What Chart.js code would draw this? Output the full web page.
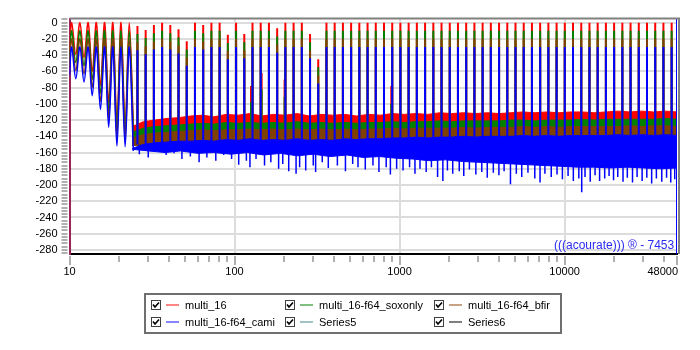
<!DOCTYPE html>
<html>
<head>
<meta charset="utf-8">
<script src="https://cdn.jsdelivr.net/npm/chart.js@4.4.0/dist/chart.umd.min.js"></script>
<style>
  body { margin: 0; background: #fff; font-family: "Liberation Sans", Arial, sans-serif; }
  #wrap { position: relative; width: 700px; height: 350px; overflow: hidden; }
  #legendBox { position: absolute; left: 144px; top: 293px; width: 414px; height: 37px; border: 2px solid #6f6f6f; }
  .item { position: absolute; height: 12px; font-size: 11px; line-height: 12px; white-space: nowrap; }
  .item svg { position: absolute; left: 0; top: 0; }
  .item .swatch { position: absolute; left: 15px; top: 4px; width: 13px; height: 2px; }
  .item span { position: absolute; left: 34px; top: -1px; color: #000; }
  #brand { position: absolute; left: 554px; top: 238px; font-size: 12px; color: #2a2af2; white-space: nowrap; }
</style>
</head>
<body>
<div id="wrap">
  <canvas id="chart" width="700" height="350"></canvas>
  <div id="brand">(((acourate))) ® - 7453</div>
  <div id="legendBox"></div>
</div>
<script>
// x / y tick labels
const xTicks = [10, 100, 1000, 10000, 48000];
const yTicks = [0, -20, -40, -60, -80, -100, -120, -140, -160, -180, -200, -220, -240, -260, -280];

// low frequency part: tone peaks and the dips between them (Hz)
const lowFreq = [10, 10.31, 10.92, 11.56, 12.24, 12.97, 13.73, 14.54, 15.40, 16.32, 17.28, 18.30, 19.38, 20.52, 21.73, 23.01, 24.37];
const redLow   = [-35, 0, -39, 0, -43, 0, -60, 0, -77, 0, -99, 0, -122, 0, -128, 0, -128];
const greenLow = [-45, -10, -49, -10, -53, -10, -70, -10, -87, -10, -109, -10, -132, -10, -135, -10, -135];
const brownLow = [-55, -20, -59, -20, -63, -20, -80, -20, -97, -20, -119, -20, -142, -20, -145, -20, -145];
const blueLow  = [-65, -30, -69, -30, -73, -30, -90, -30, -107, -30, -129, -30, -152, -30, -153, -30, -158];

// tones above 25 Hz (drawn as spikes)
const spikeFreq = [25.81, 28.94, 32.46, 36.40, 40.82, 45.78, 51.34, 57.58, 64.57, 72.42, 81.22, 91.09,
  102.2, 114.6, 128.5, 144.1, 161.6, 181.3, 203.3, 228.0, 255.7, 286.8, 321.6, 360.7, 404.5, 453.7,
  508.8, 570.6, 640.0, 717.7, 804.9, 902.7, 1012, 1135, 1273, 1428, 1602, 1796, 2015, 2259, 2534, 2842,
  3187, 3574, 4009, 4496, 5042, 5655, 6342, 7112, 7977, 8946, 10030, 11250, 12620, 14150, 15870, 17800,
  19960, 22390, 25110, 28160, 31580, 35420, 39720, 44550];
const redPeak = [-4, -9, -3, 0, -3, -8, -23, 0, -3, 0, 0, -15, 0, -14, 0, 0, 0, -7, 0, 0, 0, -14, -45, 0, 0, 0,
  0, 0, 0, 0, 0, 0, 0, 0, 0, 0, 0, 0, 0, 0, 0, 0, 0, 0, 0, 0, 0, 0, 0, 0, 0, 0, 0, 0, 0, 0, 0, 0, 0, 0, 0, 0, 0, 0, 0, 0];
const greenPeak = [-14, -19, -13, -10, -13, -18, -33, -10, -13, -10, -10, -25, -10, -24, -10, -10, -10, -17, -10, -10, -10, -24, -55, -10, -10, -10,
  -10, -10, -10, -10, -10, -10, -10, -10, -10, -10, -10, -10, -10, -10, -10, -10, -10, -10, -10, -10, -10, -10, -10, -10, -10, -10, -10, -10, -10, -10, -10, -10, -10, -10, -10, -10, -10, -10, -10, -10];
const brownPeak = [-24, -29, -23, -20, -23, -28, -43, -20, -23, -20, -20, -35, -20, -34, -20, -20, -20, -27, -20, -20, -20, -34, -65, -20, -20, -20,
  -20, -20, -20, -20, -20, -20, -20, -20, -20, -20, -20, -20, -20, -20, -20, -20, -20, -20, -20, -20, -20, -20, -20, -20, -20, -20, -20, -20, -20, -20, -20, -20, -20, -20, -20, -20, -20, -20, -20, -20];
const bluePeak = [-34, -39, -33, -30, -33, -38, -53, -30, -33, -30, -30, -45, -30, -44, -30, -30, -30, -37, -30, -30, -30, -44, -75, -30, -30, -30,
  -30, -30, -30, -30, -30, -30, -30, -30, -30, -30, -30, -30, -30, -30, -30, -30, -30, -30, -30, -30, -30, -30, -30, -30, -30, -30, -30, -30, -30, -30, -30, -30, -30, -30, -30, -30, -30, -30, -30, -30];

// short distortion lines next to some tones
const extraFreq = [125.4, 146.5, 200.4, 888];
const redExtra = [-78, -62, -70, -78];
const greenExtra = [-98, -82, -92, -100];

// noise floor, upper edges
const floorFreq = [24, 28, 33, 39, 46, 54, 64, 75, 89, 105, 124, 146, 172, 203, 240, 283, 334, 394, 465, 549, 648, 765, 903,
  1066, 1258, 1485, 1753, 2069, 2442, 2882, 3402, 4015, 4739, 5594, 6603, 7794, 9200, 10860, 12820, 15130, 17860, 21080,
  24880, 29370, 34670, 40920, 48000];
const redTop = [-128, -122, -120, -118, -117, -115, -114, -116, -113, -114, -112, -115, -113, -114, -112, -115, -113, -114, -113, -115, -113, -114, -112,
  -113, -112, -113, -111, -112, -111, -112, -111, -112, -111, -110, -111, -110, -111, -110, -110, -111, -110, -109,
  -110, -109, -110, -109, -110];
const greenTop = [-135, -130, -128, -127, -126, -125, -124, -125, -123, -124, -123, -124, -123, -124, -122, -124, -123, -124, -123, -124, -123, -123, -122,
  -123, -122, -122, -121, -122, -121, -121, -121, -121, -120, -120, -121, -120, -120, -120, -119, -120, -119, -119,
  -119, -119, -119, -118, -119];
const brownTop = [-142, -138, -136, -135, -134, -133, -132, -133, -132, -132, -131, -132, -131, -132, -131, -132, -131, -132, -131, -132, -131, -131, -130,
  -131, -130, -130, -130, -130, -129, -130, -129, -129, -129, -128, -129, -128, -129, -128, -128, -128, -128, -128,
  -127, -128, -127, -127, -128];
const blueTop = [-155, -150, -148, -147, -146, -146, -145, -146, -144, -145, -143, -145, -144, -145, -143, -145, -144, -145, -143, -144, -143, -143, -142,
  -142, -141, -142, -141, -141, -140, -141, -140, -140, -140, -139, -140, -139, -140, -139, -139, -139, -139, -138,
  -139, -138, -139, -138, -139];

// blue noise, lower edge of the dense part
const blueBotFreq = [24, 30, 38, 47, 60, 75, 95, 120, 150, 190, 240, 300, 380, 480, 600, 760, 950, 1200, 1500, 1900,
  2400, 3000, 3800, 4800, 6000, 7600, 9500, 12000, 15000, 19000, 24000, 30000, 38000, 48000];
const blueBot = [-156, -158, -160, -158, -161, -160, -162, -160, -163, -161, -164, -162, -165, -163, -166, -165, -167, -168, -170, -169,
  -171, -172, -173, -174, -175, -176, -177, -178, -178, -179, -178, -179, -180, -179];

// blue noise, deepest single dips
const dipFreq = [26.5, 30, 34, 38.5, 43, 48, 54, 61, 68, 77, 86, 96,
  106, 118, 124, 135, 152, 166, 185, 196, 213, 236, 248, 270, 300, 310, 340, 370, 420, 470, 520, 560, 620, 690, 750, 830, 880, 960,
  1050, 1150, 1240, 1330, 1450, 1560, 1700, 1830, 1950, 2100, 2300, 2450, 2650, 2900, 3150, 3400, 3700, 4000, 4300, 4700, 5100, 5500, 6000, 6600, 7100, 7600, 8300, 9000, 9700,
  10500, 11300, 12200, 12700, 13300, 14300, 15300, 16300, 17500, 18600, 19800, 21000, 22600, 24000, 25800, 27500, 29500, 31500, 33700, 36000, 38800, 41500, 44000, 46500];
const dipVal = [-162, -166, -158, -163, -161, -168, -165, -172, -166, -170, -163, -168,
  -175, -170, -178, -168, -176, -172, -180, -174, -183, -186, -178, -182, -176, -184, -172, -179, -176, -183, -174, -178, -181, -176, -184, -178, -187, -180,
  -182, -178, -186, -180, -184, -178, -190, -195, -182, -186, -183, -189, -181, -187, -184, -191, -185, -188, -183, -199, -186, -190, -185, -192, -197, -186, -190, -187, -193,
  -189, -195, -192, -209, -190, -196, -188, -195, -192, -189, -194, -190, -196, -191, -197, -190, -195, -191, -198, -192, -196, -191, -197, -193];

// blue trace at the right edge (48 kHz)
const edgeFreq = [48000, 48000];
const blueEdge = [5, -285];

// legend
const legendNames = ["multi_16", "multi_16-f64_soxonly", "multi_16-f64_bfir", "multi_16-f64_cami", "Series5", "Series6"];
const legendColors = ["#ff8585", "#80c080", "#c6a384", "#8585ff", "#a0c4c4", "#808080"];

const RED = "#ff0000", GREEN = "#008000", BROWN = "#804000", BLUE = "#0000ff";

function pairs(xs, ys) {
    return xs.map((x, i) => ({ x: x, y: ys[i] }));
}

// vertical strokes from base to value, broken by nulls
function spikes(xs, ys, base) {
    const pts = [];
    xs.forEach((f, i) => {
        pts.push({ x: f, y: base }, { x: f, y: ys[i] }, { x: f, y: null });
    });
    return pts;
}

function line(data, color, order, extra) {
    return Object.assign({
        data: data,
        borderColor: color,
        backgroundColor: color,
        borderWidth: 2,
        pointRadius: 0,
        fill: false,
        order: order
    }, extra || {});
}

const datasets = [
    line(pairs(edgeFreq, blueEdge), BLUE, 0),
    line(spikes(spikeFreq, bluePeak, -150), BLUE, 1),
    line(pairs(lowFreq, blueLow), BLUE, 1, { borderWidth: 1.5, tension: 0.35 }),
    line(spikes(dipFreq, dipVal, -150), BLUE, 1, { borderWidth: 1.5 }),
    line(pairs(floorFreq, blueTop), BLUE, 2, { borderWidth: 1, fill: "+1" }),
    line(pairs(blueBotFreq, blueBot), BLUE, 2, { borderWidth: 1 }),
    line(spikes(spikeFreq, brownPeak, -145), BROWN, 3),
    line(pairs(lowFreq, brownLow), BROWN, 3, { borderWidth: 1.5, tension: 0.35 }),
    line(pairs(floorFreq, brownTop), BROWN, 4, { borderWidth: 1, fill: { value: -152 } }),
    line(spikes(spikeFreq, greenPeak, -140), GREEN, 5),
    line(spikes(extraFreq, greenExtra, -130), GREEN, 5, { borderWidth: 1.5 }),
    line(pairs(lowFreq, greenLow), GREEN, 5, { borderWidth: 1.5, tension: 0.35 }),
    line(pairs(floorFreq, greenTop), GREEN, 6, { borderWidth: 1, fill: { value: -152 } }),
    line(spikes(spikeFreq, redPeak, -135), RED, 7),
    line(spikes(extraFreq, redExtra, -120), RED, 7, { borderWidth: 1.5 }),
    line(pairs(lowFreq, redLow), RED, 7, { borderWidth: 1.5, tension: 0.35 }),
    line(pairs(floorFreq, redTop), RED, 8, { borderWidth: 1, fill: { value: -152 } })
];

// frame, minor ticks, x labels (last one flush right like the original)
const framePlugin = {
    id: "frame",
    afterDraw(chart) {
        const ctx = chart.ctx;
        const a = chart.chartArea;
        const xs = chart.scales.x, ys = chart.scales.y;
        ctx.save();
        ctx.strokeStyle = "#808080";
        ctx.lineWidth = 2;
        ctx.beginPath();
        ctx.moveTo(a.left, a.top);
        ctx.lineTo(a.right + 3, a.top);
        ctx.moveTo(a.right + 2, a.top);
        ctx.lineTo(a.right + 2, a.bottom);
        ctx.stroke();

        ctx.strokeStyle = "#b0b0b0";
        ctx.lineWidth = 2;
        ctx.beginPath();
        for (let v = 4; v >= -284; v -= 4) {
            const y = Math.round(ys.getPixelForValue(v));
            ctx.moveTo(a.left - 8, y);
            ctx.lineTo(a.left - 2, y);
        }
        for (let d = 10; d < 48000; d *= 10) {
            for (let m = 1; m < 10; m++) {
                const v = d * m;
                if (v > 48000) break;
                const x = Math.round(xs.getPixelForValue(v));
                ctx.moveTo(x, a.bottom + 2);
                ctx.lineTo(x, a.bottom + (m === 1 ? 11 : 8));
            }
        }
        const xe = Math.round(xs.getPixelForValue(48000));
        ctx.moveTo(xe, a.bottom + 2);
        ctx.lineTo(xe, a.bottom + 11);
        ctx.stroke();

        ctx.fillStyle = "#000";
        ctx.font = "11px 'Liberation Sans'";
        ctx.textBaseline = "middle";
        xTicks.forEach((v, i) => {
            const last = i === xTicks.length - 1;
            ctx.textAlign = last ? "right" : "center";
            ctx.fillText(String(v), xs.getPixelForValue(v) + (last ? 1 : 0), a.bottom + 18);
        });
        ctx.restore();
    }
};

new Chart(document.getElementById("chart"), {
    type: "line",
    data: { datasets: datasets },
    options: {
        responsive: false,
        animation: false,
        devicePixelRatio: 1,
        layout: { padding: { left: 0, right: 23, top: 15, bottom: 60 } },
        plugins: { legend: { display: false }, tooltip: { enabled: false } },
        scales: {
            x: {
                type: "logarithmic",
                min: 10,
                max: 48000,
                afterBuildTicks: s => { s.ticks = xTicks.map(v => ({ value: v })); },
                afterFit: s => { s.height = 36; },
                border: { color: "#000", width: 2 },
                grid: {
                    drawTicks: false,
                    lineWidth: 2,
                    color: c => (c.tick && (c.tick.value === 10 || c.tick.value === 48000)) ? "rgba(0,0,0,0)" : "#dcdcdc"
                },
                ticks: { display: false, autoSkip: false, maxRotation: 0 }
            },
            y: {
                min: -285,
                max: 5,
                afterBuildTicks: s => { s.ticks = yTicks.map(v => ({ value: v })); },
                afterFit: s => { s.width = 69.5; },
                border: { color: "#9b2257", width: 2 },
                grid: { drawTicks: false, lineWidth: 2, color: "#dcdcdc" },
                ticks: {
                    padding: 12,
                    color: "#000",
                    font: { family: "Liberation Sans", size: 11 },
                    callback: v => String(v)
                }
            }
        }
    },
    plugins: [framePlugin]
});

// legend with check boxes
const legendCols = [151, 285, 434];
const legendRows = [300, 317];
const wrap = document.getElementById("wrap");
legendNames.forEach((name, i) => {
    const item = document.createElement("div");
    item.className = "item";
    item.style.left = legendCols[i % 3] + "px";
    item.style.top = legendRows[Math.floor(i / 3)] + "px";
    item.innerHTML =
        '<svg width="10" height="10"><rect x="0.5" y="0.5" width="9" height="9" fill="#fff" stroke="#404040"/>' +
        '<polyline points="2,4.5 4,7 8,2.5" fill="none" stroke="#000" stroke-width="1.6"/></svg>' +
        '<div class="swatch" style="background:' + legendColors[i] + '"></div>' +
        '<span>' + name + '</span>';
    wrap.appendChild(item);
});
</script>
</body>
</html>
